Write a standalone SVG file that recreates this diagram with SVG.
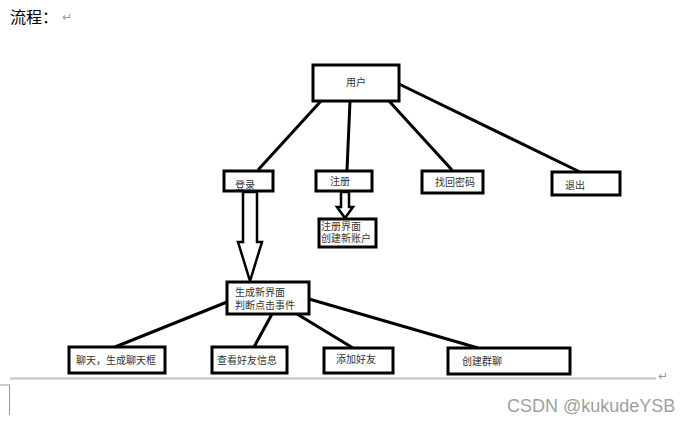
<svg xmlns="http://www.w3.org/2000/svg" width="692" height="422" viewBox="0 0 692 422">
<style>
.box{fill:#fff;stroke:#000;stroke-width:3}
.t{font-family:"Liberation Sans","Noto Sans CJK SC",sans-serif;font-size:10px;fill:#333}
.ln{stroke:#000;stroke-width:3;fill:none}
.hollow{fill:#fff;stroke:#000;stroke-width:2.5;stroke-linejoin:miter}
.ret{font-family:"DejaVu Sans",sans-serif;font-size:12px;fill:#999}
</style>
<rect width="692" height="422" fill="#fff"/>
<text x="10" y="23" style="font-family:'Liberation Sans','Noto Sans CJK SC',sans-serif;font-size:16px;fill:#000">流程：</text>
<text x="62" y="21" class="ret">↵</text>
<g id="connectors">
<line class="ln" x1="321" y1="101" x2="258" y2="170"/>
<line class="ln" x1="350" y1="101" x2="347" y2="170"/>
<line class="ln" x1="389" y1="101" x2="452" y2="170"/>
<line class="ln" x1="399" y1="84" x2="580" y2="172"/>
<line class="ln" x1="227" y1="302" x2="115" y2="347"/>
<line class="ln" x1="272" y1="314" x2="254" y2="347"/>
<line class="ln" x1="297" y1="314" x2="353" y2="348"/>
<line class="ln" x1="309" y1="299" x2="478" y2="348"/>
<path class="hollow" d="M243,192 L257,192 L257,242 L262,242 L250,281 L238,242 L243,242 Z"/>
<path class="hollow" d="M341,192 L349,192 L349,207 L353,207 L345,218 L337,207 L341,207 Z"/>
</g>
<g id="n-user"><rect class="box" x="313" y="65" width="86" height="36"/><text class="t" x="356" y="86" text-anchor="middle">用户</text></g>
<g id="n-login"><rect class="box" x="224" y="171" width="49" height="20"/><text class="t" x="235" y="189">登录</text></g>
<g id="n-register"><rect class="box" x="316" y="171" width="56" height="20"/><text class="t" x="330" y="185">注册</text></g>
<g id="n-find"><rect class="box" x="422" y="171" width="61" height="22"/><text class="t" x="435" y="186">找回密码</text></g>
<g id="n-exit"><rect class="box" x="552" y="172" width="68" height="23"/><text class="t" x="565" y="189">退出</text></g>
<g id="n-reg-ui"><rect class="box" x="319" y="219" width="57" height="28"/><text class="t" x="321" y="230">注册界面</text><text class="t" x="321" y="242">创建新账户</text></g>
<g id="n-new-ui"><rect class="box" x="227" y="282" width="82" height="32"/><text class="t" x="235" y="296">生成新界面</text><text class="t" x="235" y="309">判断点击事件</text></g>
<g id="n-chat"><rect class="box" x="69" y="347" width="96" height="26"/><text class="t" x="76" y="364">聊天，生成聊天框</text></g>
<g id="n-view"><rect class="box" x="212" y="347" width="75" height="26"/><text class="t" x="217" y="364">查看好友信息</text></g>
<g id="n-add"><rect class="box" x="324" y="348" width="69" height="25"/><text class="t" x="336" y="363">添加好友</text></g>
<g id="n-group"><rect class="box" x="448" y="348" width="122" height="26"/><text class="t" x="462" y="365">创建群聊</text></g>
<line x1="10" y1="378.5" x2="656" y2="378.5" stroke="#b8c4d6" stroke-width="2"/>
<text x="658" y="380" class="ret">↵</text>
<polyline points="0,385 9.5,385 9.5,415" fill="none" stroke="#999" stroke-width="1"/>
<text x="507" y="412" style="font-family:'Liberation Sans',sans-serif;font-size:18px;fill:#a0a0a0">CSDN @kukudeYSB</text>
</svg>
